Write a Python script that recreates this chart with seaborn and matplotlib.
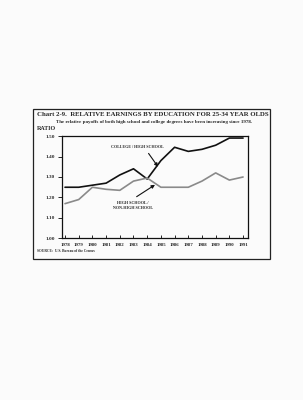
import seaborn as sns
import matplotlib.pyplot as plt
import pandas as pd
from matplotlib.patches import Rectangle

# Values
years = [1978, 1979, 1980, 1981, 1982, 1983, 1984, 1985, 1986, 1987, 1988, 1989, 1990, 1991]
college_hs = [1.25, 1.25, 1.26, 1.27, 1.31, 1.34, 1.29, 1.38, 1.445, 1.425, 1.435, 1.455, 1.49, 1.49]
hs_nonhs = [1.17, 1.19, 1.25, 1.24, 1.235, 1.28, 1.295, 1.25, 1.25, 1.25, 1.28, 1.32, 1.285, 1.30]
y_ticks = [1.00, 1.10, 1.20, 1.30, 1.40, 1.50]

df = pd.DataFrame({
    'Year': years * 2,
    'Ratio': college_hs + hs_nonhs,
    'Series': ['College / High School'] * len(years) + ['High School / Non-High School'] * len(years),
})

sns.set_style('ticks')
plt.rcParams['font.family'] = ['Liberation Serif', 'DejaVu Serif']
plt.rcParams['font.weight'] = 'bold'

fig = plt.figure(figsize=(3.03, 4.0), dpi=100)
fig.patch.set_facecolor('#fbfbfb')

# frame around the chart on the page
fig.patches.append(Rectangle((33 / 303, 1 - 259 / 400), (270 - 33) / 303, (259 - 109) / 400,
                             transform=fig.transFigure, fill=False, edgecolor='#222222', lw=0.9))

ax = fig.add_axes([62 / 303, 1 - 238.5 / 400, (248 - 62) / 303, (238.5 - 136) / 400])
ax.set_facecolor('#fbfbfb')
sns.lineplot(data=df, x='Year', y='Ratio', hue='Series',
             palette={'College / High School': '#111111', 'High School / Non-High School': '#8a8a8a'},
             linewidth=1.2, legend=False, ax=ax)

ax.set_xlim(1977.78, 1991.36)
ax.set_ylim(1.0, 1.5)
ax.set_xticks(years)
ax.set_xticklabels([str(y) for y in years], fontsize=3.5, fontweight='bold')
ax.set_yticks(y_ticks)
ax.set_yticklabels(['%.2f' % v for v in y_ticks], fontsize=3.8, fontweight='bold')
ax.tick_params(axis='x', direction='in', length=2.5, width=0.7, pad=3)
ax.tick_params(axis='y', direction='out', length=3, width=0.7, pad=2)
ax.set_xlabel('')
ax.set_ylabel('')
for s in ax.spines.values():
    s.set_visible(True)
    s.set_linewidth(0.9)
    s.set_color('#111111')

arrow = dict(arrowstyle='-|>', color='#111111', lw=0.8, mutation_scale=5, shrinkA=0, shrinkB=0)
ax.text(1983.25, 1.448, 'COLLEGE / HIGH SCHOOL', fontsize=3.0, fontweight='bold',
        ha='center', va='center')
ax.annotate('', xy=(1984.79, 1.35), xytext=(1984.1, 1.415), arrowprops=arrow)
ax.text(1982.96, 1.161, 'HIGH SCHOOL /\nNON-HIGH SCHOOL', fontsize=3.0, fontweight='bold',
        ha='center', va='center', linespacing=1.5)
ax.annotate('', xy=(1984.57, 1.262), xytext=(1983.23, 1.204), arrowprops=arrow)

fig.text(37 / 303, 1 - 115 / 400, 'Chart 2-9.  RELATIVE EARNINGS BY EDUCATION FOR 25-34 YEAR OLDS',
         fontsize=4.85, fontweight='bold', va='center', ha='left')
fig.text(154 / 303, 1 - 121.5 / 400,
         'The relative payoffs of both high school and college degrees have been increasing since 1978.',
         fontsize=3.6, fontweight='bold', va='center', ha='center')
fig.text(37 / 303, 1 - 128.5 / 400, 'RATIO', fontsize=4.3, fontweight='bold', va='center', ha='left')
fig.text(37 / 303, 1 - 251 / 400, 'SOURCE:  U.S. Bureau of the Census', fontsize=2.6,
         fontweight='bold', va='center', ha='left')

fig.savefig('out.png', dpi=100, facecolor=fig.get_facecolor())
